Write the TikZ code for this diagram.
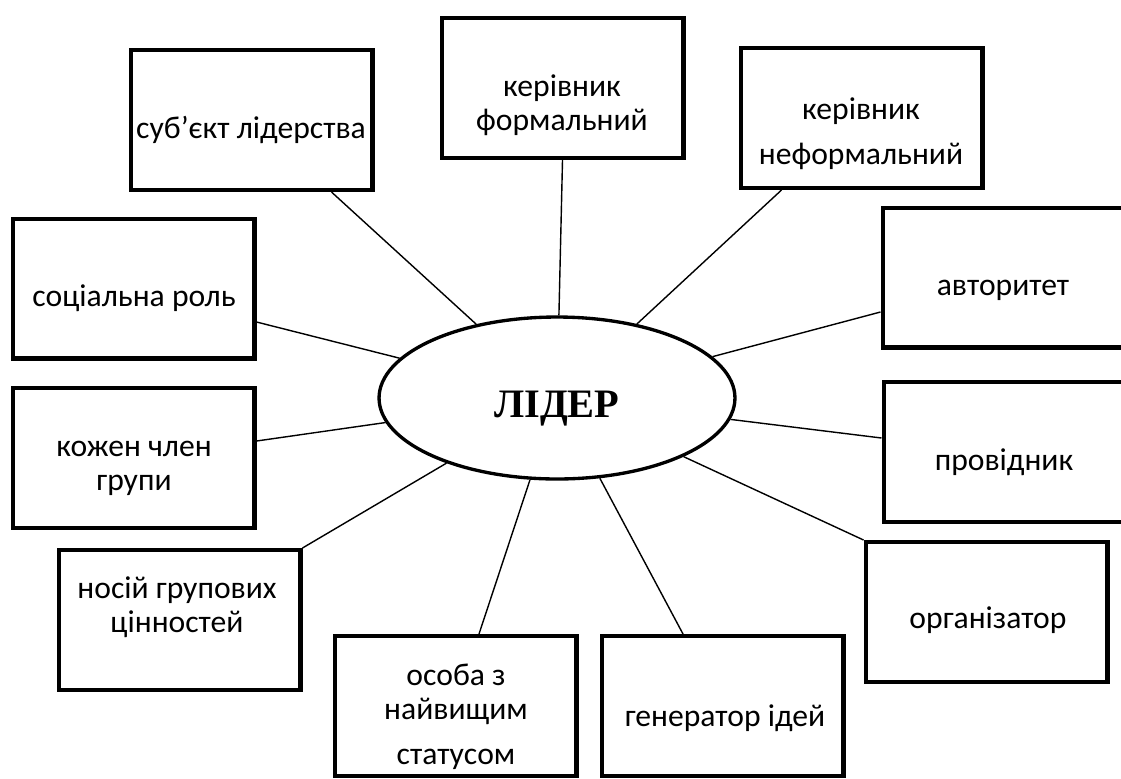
\documentclass[tikz,border=0pt]{standalone}
\usepackage{fontspec}
\setmainfont{Carlito}
\newfontfamily\liderfont{Liberation Serif}
\usetikzlibrary{shapes.geometric}

\begin{document}
\begin{tikzpicture}[x=0.02cm,y=-0.02cm,
  box/.style={draw,line width=2.3pt,minimum width=4.84cm,minimum height=2.8cm,inner sep=0pt},
  txt/.style={align=center,inner sep=0pt,font=\fontsize{18}{19.5}\selectfont},
  link/.style={line width=0.8pt}]
\useasboundingbox (0,0) rectangle (1121,778);
\node[box] (subj) at (251.5,120) {};
\node[box] (form) at (562.5,88) {};
\node[box] (neform) at (861.5,118) {};
\node[box] (social) at (133.5,288.5) {};
\node[box] (avtor) at (1003.5,277.5) {};
\node[box] (kozhen) at (133.5,458) {};
\node[box] (provid) at (1004.5,452) {};
\node[box] (nosiy) at (179.5,620) {};
\node[box] (organ) at (986.5,612) {};
\node[box] (osoba) at (455.5,706) {};
\node[box] (gener) at (722.5,706) {};
\node[txt] (subj-t) at (251,130) {суб’єкт лідерства};
\node[txt] (form-t) at (562,105) {керівник\\формальний};
\node[txt] (neform-t) at (861,134) {керівник\\[6pt]неформальний};
\node[txt] (social-t) at (134,298) {соціальна роль};
\node[txt] (avtor-t) at (1003,290) {авторитет};
\node[txt] (kozhen-t) at (134,468) {кожен член\\групи};
\node[txt] (provid-t) at (1004,462) {провідник};
\node[txt] (nosiy-t) at (177,607) {носій групових\\цінностей};
\node[txt] (organ-t) at (988,620) {організатор};
\node[txt] (osoba-t) at (456,717) {особа з\\найвищим\\[6pt]статусом};
\node[txt] (gener-t) at (725,718) {генератор ідей};
\node[ellipse,draw,line width=1.9pt,fill=white,minimum width=7.12cm,minimum height=3.24cm] (lider) at (557,398) {};
\node[inner sep=0pt,font=\liderfont\bfseries\fontsize{23}{23}\selectfont] (lider-t) at (557,409) {ЛІДЕР};
\draw[link] ([xshift=1.6cm]subj.south) -- (lider);
\draw[link] (form.south) -- (lider);
\draw[link] ([xshift=-1.6cm]neform.south) -- (lider);
\draw[link] ([yshift=-0.67cm]social.east) -- (lider);
\draw[link] ([yshift=-0.69cm]avtor.west) -- (lider);
\draw[link] ([yshift=0.34cm]kozhen.east) -- (lider);
\draw[link] ([yshift=0.28cm]provid.west) -- (lider);
\draw[link] (nosiy.north east) -- (lider);
\draw[link] (organ.north west) -- (lider);
\draw[link] ([xshift=0.47cm]osoba.north) -- (lider);
\draw[link] ([xshift=-0.79cm]gener.north) -- (lider);
\end{tikzpicture}
\end{document}
